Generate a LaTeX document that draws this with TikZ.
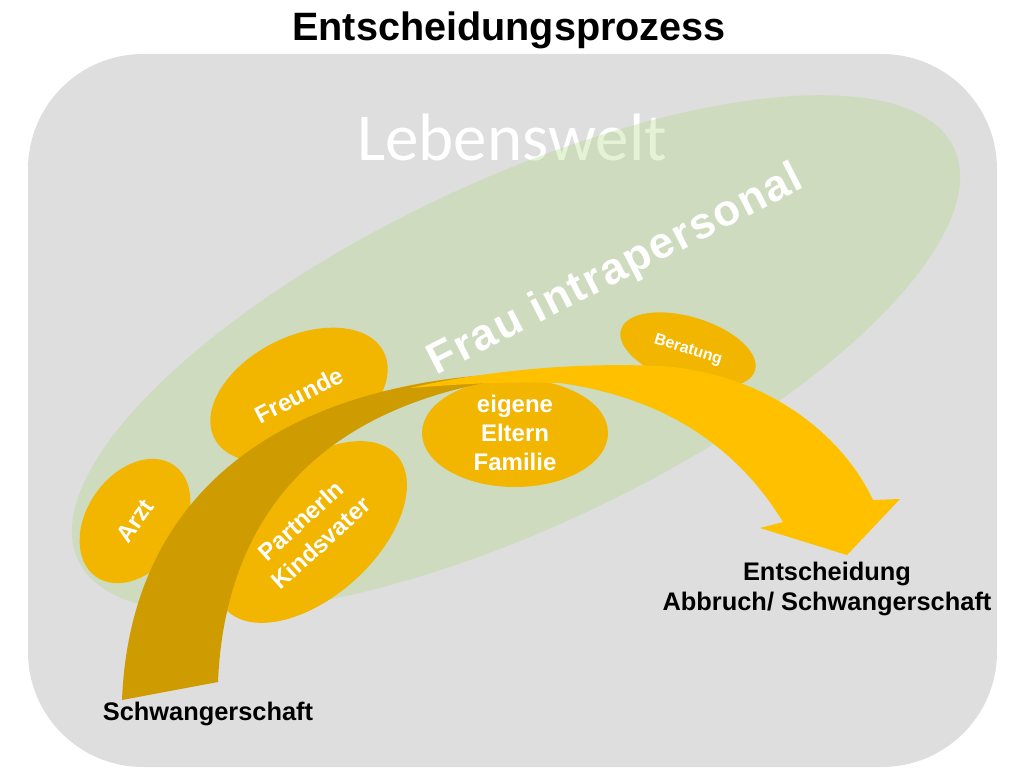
\documentclass[tikz,border=0pt]{standalone}
\usepackage{fontspec}
\setmainfont{Liberation Sans}
\newfontfamily\calibrifont{Carlito}
\newfontfamily\weitfont[LetterSpace=4]{Liberation Sans}
\usetikzlibrary{shapes.geometric}
\definecolor{bggray}{RGB}{222,222,222}
\definecolor{weltgreen}{RGB}{172,215,122}
\definecolor{kreisorange}{RGB}{242,181,0}
\definecolor{pfeilgelb}{RGB}{255,192,0}
\definecolor{pfeildunkel}{RGB}{206,156,0}
\tikzset{
  kontakt/.style = {ellipse, fill = kreisorange, text = white, inner sep = 0pt,
    align = center, font = \bfseries\fontsize{24}{30}\selectfont},
  beschriftung/.style = {align = center, font = \bfseries\fontsize{25.4}{30}\selectfont}
}
\begin{document}
\begin{tikzpicture}[x = 1pt, y = -1pt]
        \useasboundingbox (0, 0) rectangle (1024, 768);
        \fill[bggray, rounded corners = 115pt] (28, 54) rectangle (997, 767);
        \node[text = white, font = \calibrifont\fontsize{67}{70}\selectfont] (welt) at (512, 137) {Lebenswelt};
        \fill[weltgreen, opacity = 0.3, rotate around = {25.2:(516, 354)}] (516, 354) ellipse [x radius = 484, y radius = 173];
        \node[rotate = 27, text = white, font = \weitfont\bfseries\fontsize{44}{48}\selectfont] (frau) at (616, 271) {Frau intrapersonal};
        \node[kontakt, minimum width = 136pt, minimum height = 96pt, rotate = 55] (arzt) at (135, 521) {Arzt};
        \node[kontakt, minimum width = 190pt, minimum height = 116pt, rotate = 27] (freunde) at (299, 395) {Freunde};
        \node[kontakt, minimum width = 230pt, minimum height = 130pt, rotate = 42] (partner) at (311, 532) {PartnerIn\\Kindsvater};
        \node[kontakt, minimum width = 186pt, minimum height = 108pt, font = \bfseries\fontsize{24}{29}\selectfont] (eltern) at (515, 433) {eigene\\Eltern\\Familie};
        \node[kontakt, minimum width = 140pt, minimum height = 66pt, rotate = -17, font = \bfseries\fontsize{16}{18}\selectfont] (beratung) at (688, 350) {Beratung};
        \fill[pfeildunkel] (122, 700) .. controls (130, 500) and (270, 388) .. (500, 374) -- (495, 381)
          .. controls (320, 412) and (225, 515) .. (218, 682) -- cycle;
        \fill[pfeilgelb] (410, 388) .. controls (480, 372) and (570, 362) .. (660, 366)
          .. controls (760, 372) and (840, 430) .. (873, 500) -- (900, 499) -- (847, 555) -- (760, 528) -- (783, 522)
          .. controls (745, 460) and (680, 400) .. (560, 383)
          .. controls (500, 381) and (450, 385) .. (410, 388) -- cycle;
        \node[font = \bfseries\fontsize{39.6}{44}\selectfont] (titel) at (509, 30) {Entscheidungsprozess};
        \node[beschriftung] (start) at (208, 714) {Schwangerschaft};
        \node[beschriftung] (ziel) at (827, 589) {Entscheidung\\Abbruch/ Schwangerschaft};
  \end{tikzpicture}
\end{document}
